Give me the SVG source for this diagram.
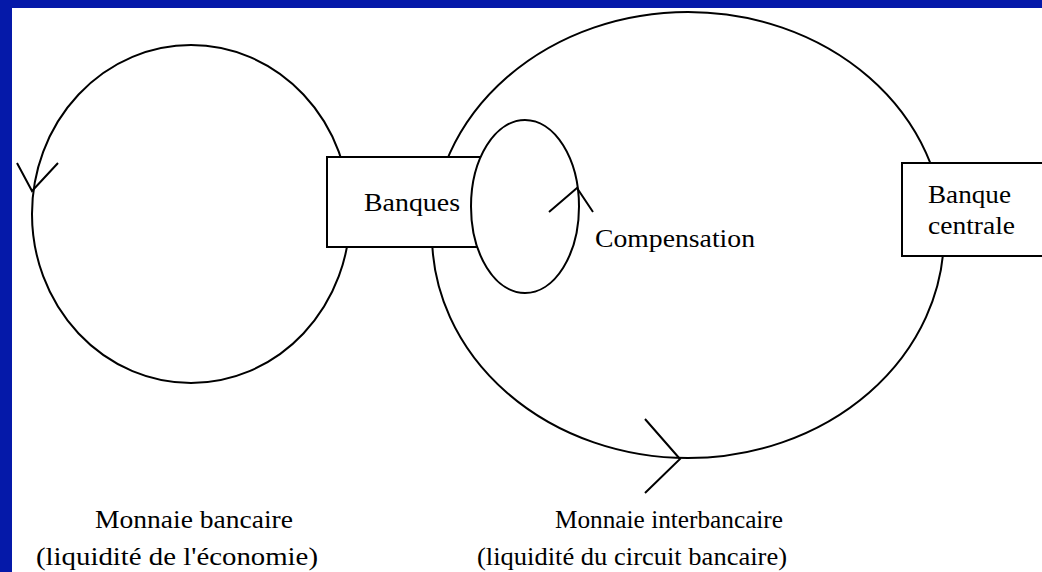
<svg xmlns="http://www.w3.org/2000/svg" width="1042" height="572" viewBox="0 0 1042 572">
<style>
.ln{fill:none;stroke:#000;stroke-width:2}
.box{fill:#fff;stroke:#000;stroke-width:2}
.t{font-family:"Liberation Serif","Times New Roman",serif;font-size:25px;fill:#000}
</style>
<rect x="0" y="0" width="1042" height="572" fill="#fff"/>
<rect x="0" y="0" width="1042" height="8" fill="#0519A9"/>
<rect x="0" y="0" width="12" height="572" fill="#0519A9"/>
<g id="circuit-economie">
<ellipse class="ln" cx="191" cy="214" rx="159" ry="169"/>
</g>
<g id="circuit-interbancaire">
<ellipse class="ln" cx="688" cy="235" rx="256" ry="223"/>
</g>
<g id="banques">
<rect class="box" x="327" y="157" width="160" height="90"/>
<text class="t" x="364" y="211" textLength="96" lengthAdjust="spacingAndGlyphs">Banques</text>
</g>
<g id="compensation-ellipse">
<ellipse class="box" cx="525" cy="206.5" rx="54" ry="86.5"/>
</g>
<g id="banque-centrale">
<rect class="box" x="902" y="163" width="150" height="93"/>
<text class="t" x="928" y="203" textLength="83" lengthAdjust="spacingAndGlyphs">Banque</text>
<text class="t" x="928" y="234" textLength="87" lengthAdjust="spacingAndGlyphs">centrale</text>
</g>
<g id="compensation">
<text class="t" x="595" y="247" textLength="160" lengthAdjust="spacingAndGlyphs">Compensation</text>
</g>
<g id="label-bancaire">
<text class="t" x="95" y="528" textLength="198" lengthAdjust="spacingAndGlyphs">Monnaie bancaire</text>
<text class="t" x="36" y="565" textLength="282" lengthAdjust="spacingAndGlyphs">(liquidité de l'économie)</text>
</g>
<g id="label-interbancaire">
<text class="t" x="555" y="528" textLength="228" lengthAdjust="spacingAndGlyphs">Monnaie interbancaire</text>
<text class="t" x="477" y="565" textLength="310" lengthAdjust="spacingAndGlyphs">(liquidité du circuit bancaire)</text>
</g>
<g id="connectors">
<polyline class="ln" points="17,163 32,191 58,163"/>
<polyline class="ln" points="549,212 577,188 593,212"/>
<polyline class="ln" points="645,419 680,459 645,493"/>
</g>
</svg>
